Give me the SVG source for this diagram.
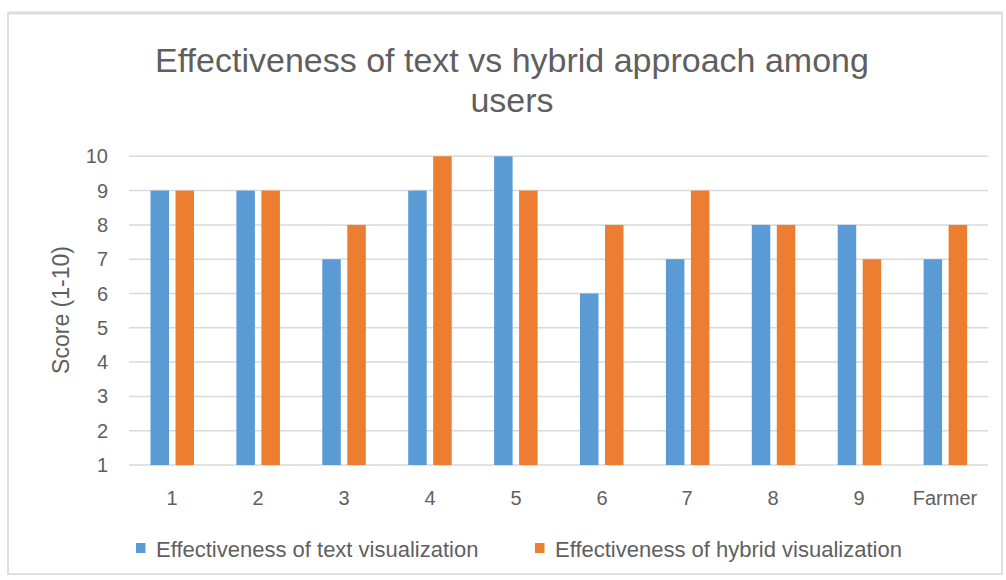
<svg xmlns="http://www.w3.org/2000/svg" width="1006" height="580" viewBox="0 0 1006 580">
  <style>
    .lbl { font-family: "Liberation Sans", Arial, sans-serif; fill: #5f5f5f; }
    .title { font-size: 34px; }
    .tick { font-size: 20px; text-anchor: end; }
    .cat { font-size: 20px; text-anchor: middle; }
    .leg { font-size: 22px; }
    .grid line { stroke: #d9d9d9; stroke-width: 1.5; }
    .txt { fill: #5b9bd5; }
    .hyb { fill: #ed7d31; }
  </style>
  <rect x="0" y="0" width="1006" height="580" fill="#ffffff"/>
  <!-- chart frame -->
  <rect x="8" y="13" width="994" height="561" fill="#ffffff" stroke="#e0e0e0" stroke-width="2"/>
  <line x1="8" y1="13" x2="1002" y2="13" stroke="#dcdcdc" stroke-width="3"/>

  <g id="title" class="lbl title" text-anchor="middle">
    <text x="512" y="72">Effectiveness of text vs hybrid approach among</text>
    <text x="512" y="112">users</text>
  </g>

  <!-- gridlines, value 1..10 -->
  <g id="gridlines" class="grid">
    <line x1="129" y1="465" x2="988" y2="465"/>
    <line x1="129" y1="430.7" x2="988" y2="430.7"/>
    <line x1="129" y1="396.4" x2="988" y2="396.4"/>
    <line x1="129" y1="362.1" x2="988" y2="362.1"/>
    <line x1="129" y1="327.8" x2="988" y2="327.8"/>
    <line x1="129" y1="293.5" x2="988" y2="293.5"/>
    <line x1="129" y1="259.2" x2="988" y2="259.2"/>
    <line x1="129" y1="224.9" x2="988" y2="224.9"/>
    <line x1="129" y1="190.6" x2="988" y2="190.6"/>
    <line x1="129" y1="156.3" x2="988" y2="156.3"/>
  </g>

  <g id="y-axis" class="lbl tick">
    <text x="108" y="472">1</text>
    <text x="108" y="437.7">2</text>
    <text x="108" y="403.4">3</text>
    <text x="108" y="369.1">4</text>
    <text x="108" y="334.8">5</text>
    <text x="108" y="300.5">6</text>
    <text x="108" y="266.2">7</text>
    <text x="108" y="231.9">8</text>
    <text x="108" y="197.6">9</text>
    <text x="108" y="163.3">10</text>
  </g>
  <text id="y-title" class="lbl" font-size="23" text-anchor="middle" transform="translate(69,310) rotate(-90)">Score (1-10)</text>

  <!-- bars: text visualization (blue) -->
  <g id="series-text" class="txt">
    <rect x="150.5" y="190.6" width="18.5" height="274.4"/>
    <rect x="236.4" y="190.6" width="18.5" height="274.4"/>
    <rect x="322.3" y="259.2" width="18.5" height="205.8"/>
    <rect x="408.2" y="190.6" width="18.5" height="274.4"/>
    <rect x="494.1" y="156.3" width="18.5" height="308.7"/>
    <rect x="580.0" y="293.5" width="18.5" height="171.5"/>
    <rect x="665.9" y="259.2" width="18.5" height="205.8"/>
    <rect x="751.8" y="224.9" width="18.5" height="240.1"/>
    <rect x="837.7" y="224.9" width="18.5" height="240.1"/>
    <rect x="923.6" y="259.2" width="18.5" height="205.8"/>
  </g>

  <!-- bars: hybrid visualization (orange) -->
  <g id="series-hybrid" class="hyb">
    <rect x="175.5" y="190.6" width="18.5" height="274.4"/>
    <rect x="261.4" y="190.6" width="18.5" height="274.4"/>
    <rect x="347.3" y="224.9" width="18.5" height="240.1"/>
    <rect x="433.2" y="156.3" width="18.5" height="308.7"/>
    <rect x="519.1" y="190.6" width="18.5" height="274.4"/>
    <rect x="605.0" y="224.9" width="18.5" height="240.1"/>
    <rect x="690.9" y="190.6" width="18.5" height="274.4"/>
    <rect x="776.8" y="224.9" width="18.5" height="240.1"/>
    <rect x="862.7" y="259.2" width="18.5" height="205.8"/>
    <rect x="948.6" y="224.9" width="18.5" height="240.1"/>
  </g>

  <g id="x-axis" class="lbl cat">
    <text x="172" y="505">1</text>
    <text x="258" y="505">2</text>
    <text x="344" y="505">3</text>
    <text x="430" y="505">4</text>
    <text x="516" y="505">5</text>
    <text x="602" y="505">6</text>
    <text x="687" y="505">7</text>
    <text x="773" y="505">8</text>
    <text x="859" y="505">9</text>
    <text x="945" y="505">Farmer</text>
  </g>

  <g id="legend" class="lbl leg">
    <rect class="txt" x="136" y="543" width="9.5" height="10"/>
    <text x="156" y="557">Effectiveness of text visualization</text>
    <rect class="hyb" x="535" y="543" width="9.5" height="10"/>
    <text x="555" y="557">Effectiveness of hybrid visualization</text>
  </g>
</svg>
